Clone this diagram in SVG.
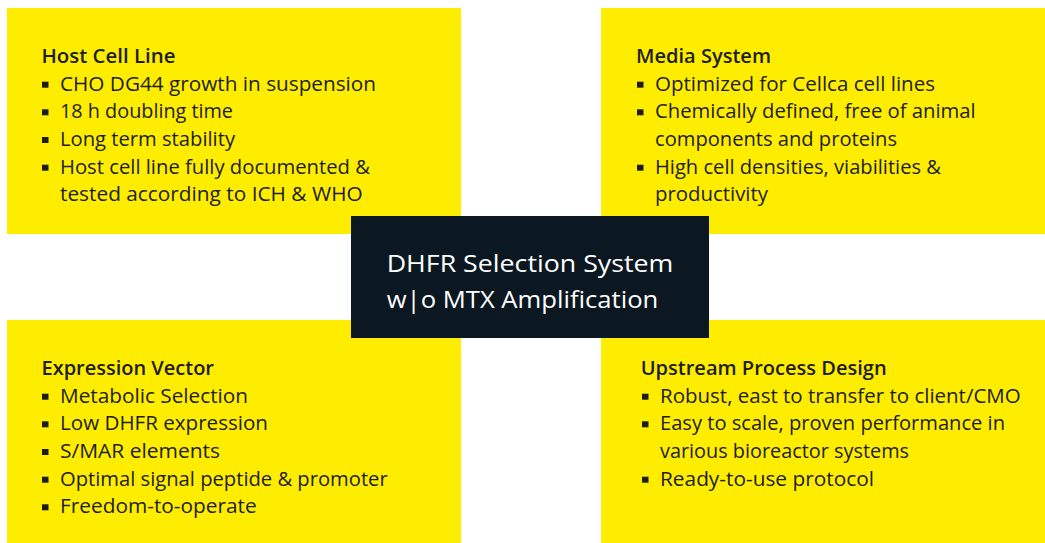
<svg xmlns="http://www.w3.org/2000/svg" width="1045" height="543" viewBox="0 0 1045 543">
<style>
.box{fill:#FFED00}
.core{fill:#0B1821}
.h{font-family:"Open Sans","Liberation Sans",sans-serif;font-size:19.5px;font-weight:600;fill:#1D1D1B}
.t{font-family:"Open Sans","Liberation Sans",sans-serif;font-size:19.5px;font-weight:400;fill:#1D1D1B}
.c{font-family:"Open Sans","Liberation Sans",sans-serif;font-size:23px;font-weight:400;fill:#FFFFFF}
.b{fill:#1D1D1B}
</style>
<rect width="1045" height="543" fill="#FFFFFF"/>
<g id="host-cell-line">
<rect class="box" x="7" y="8" width="454" height="226"/>
<text class="h" x="41.5" y="62.7" textLength="134" lengthAdjust="spacingAndGlyphs">Host Cell Line</text>
<rect class="b" x="42" y="81.7" width="6.5" height="6"/>
<text class="t" x="60" y="90.7" textLength="316" lengthAdjust="spacingAndGlyphs">CHO DG44 growth in suspension</text>
<rect class="b" x="42" y="109.3" width="6.5" height="6"/>
<text class="t" x="60" y="118.3" textLength="173" lengthAdjust="spacingAndGlyphs">18 h doubling time</text>
<rect class="b" x="42" y="137" width="6.5" height="6"/>
<text class="t" x="60" y="146" textLength="175" lengthAdjust="spacingAndGlyphs">Long term stability</text>
<rect class="b" x="42" y="164.7" width="6.5" height="6"/>
<text class="t" x="60" y="173.7" textLength="310" lengthAdjust="spacingAndGlyphs">Host cell line fully documented &amp;</text>
<text class="t" x="60" y="201.4" textLength="302.7" lengthAdjust="spacingAndGlyphs">tested according to ICH &amp; WHO</text>
</g>
<g id="media-system">
<rect class="box" x="601" y="8" width="444" height="226"/>
<text class="h" x="636" y="62.7" textLength="135" lengthAdjust="spacingAndGlyphs">Media System</text>
<rect class="b" x="637" y="81.7" width="6.5" height="6"/>
<text class="t" x="655" y="90.7" textLength="280" lengthAdjust="spacingAndGlyphs">Optimized for Cellca cell lines</text>
<rect class="b" x="637" y="109.3" width="6.5" height="6"/>
<text class="t" x="655" y="118.3" textLength="320.7" lengthAdjust="spacingAndGlyphs">Chemically defined, free of animal</text>
<text class="t" x="655" y="146" textLength="242" lengthAdjust="spacingAndGlyphs">components and proteins</text>
<rect class="b" x="637" y="164.7" width="6.5" height="6"/>
<text class="t" x="655" y="173.7" textLength="286" lengthAdjust="spacingAndGlyphs">High cell densities, viabilities &amp;</text>
<text class="t" x="655" y="201.4" textLength="113" lengthAdjust="spacingAndGlyphs">productivity</text>
</g>
<g id="expression-vector">
<rect class="box" x="7" y="320" width="454" height="223"/>
<text class="h" x="41.5" y="375" textLength="172.5" lengthAdjust="spacingAndGlyphs">Expression Vector</text>
<rect class="b" x="42" y="393.7" width="6.5" height="6"/>
<text class="t" x="60" y="402.7" textLength="188" lengthAdjust="spacingAndGlyphs">Metabolic Selection</text>
<rect class="b" x="42" y="421.3" width="6.5" height="6"/>
<text class="t" x="60" y="430.3" textLength="208" lengthAdjust="spacingAndGlyphs">Low DHFR expression</text>
<rect class="b" x="42" y="449" width="6.5" height="6"/>
<text class="t" x="60" y="458" textLength="160" lengthAdjust="spacingAndGlyphs">S/MAR elements</text>
<rect class="b" x="42" y="476.7" width="6.5" height="6"/>
<text class="t" x="60" y="485.7" textLength="327.7" lengthAdjust="spacingAndGlyphs">Optimal signal peptide &amp; promoter</text>
<rect class="b" x="42" y="504.3" width="6.5" height="6"/>
<text class="t" x="60" y="513.3" textLength="196.7" lengthAdjust="spacingAndGlyphs">Freedom-to-operate</text>
</g>
<g id="upstream-process-design">
<rect class="box" x="601" y="320" width="444" height="223"/>
<text class="h" x="640.7" y="375" textLength="246" lengthAdjust="spacingAndGlyphs">Upstream Process Design</text>
<rect class="b" x="642" y="393.7" width="6.5" height="6"/>
<text class="t" x="660" y="402.7" textLength="360.7" lengthAdjust="spacingAndGlyphs">Robust, east to transfer to client/CMO</text>
<rect class="b" x="642" y="421.3" width="6.5" height="6"/>
<text class="t" x="660" y="430.3" textLength="345" lengthAdjust="spacingAndGlyphs">Easy to scale, proven performance in</text>
<text class="t" x="660" y="458" textLength="249" lengthAdjust="spacingAndGlyphs">various bioreactor systems</text>
<rect class="b" x="642" y="476.7" width="6.5" height="6"/>
<text class="t" x="660" y="485.7" textLength="214" lengthAdjust="spacingAndGlyphs">Ready-to-use protocol</text>
</g>
<g id="dhfr-selection-system">
<rect class="core" x="351" y="216" width="358" height="122"/>
<text class="c" x="386.7" y="272.3" textLength="286.6" lengthAdjust="spacingAndGlyphs">DHFR Selection System</text>
<text class="c" x="386.7" y="308.3" textLength="271.6" lengthAdjust="spacingAndGlyphs">w|o MTX Amplification</text>
</g>
</svg>
